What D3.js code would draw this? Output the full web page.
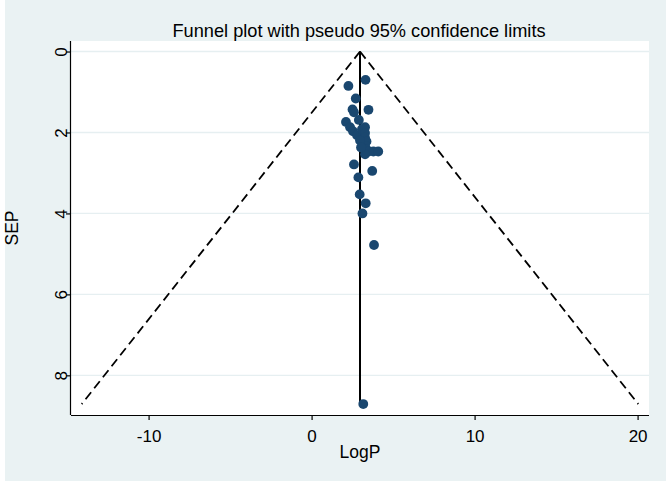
<!DOCTYPE html>
<html><head><meta charset="utf-8">
<script src="https://cdn.jsdelivr.net/npm/d3@7"></script>
<style>body{margin:0;background:#fff}svg{display:block}text{font-family:"Liberation Sans",Arial,sans-serif}</style>
</head><body>
<script>
const logP = [3.31,2.26,2.71,2.51,2.60,3.49,2.90,2.11,2.36,2.54,2.79,3.09,3.28,3.28,3.28,3.37,3.28,3.37,3.49,3.79,4.09,3.28,2.60,3.72,2.87,2.95,3.32,3.12,3.83,3.17,2.97,3.03];
const sep  = [0.70,0.85,1.16,1.43,1.50,1.44,1.69,1.74,1.87,1.97,2.07,1.92,1.87,2.01,2.13,2.22,2.33,2.42,2.47,2.47,2.47,2.54,2.79,2.95,3.11,3.53,3.75,4.00,4.78,8.71,2.20,2.37];
const pooled = 2.97;
const xTicks = [-10,0,10,20];
const yTicks = [0,2,4,6,8];

const W=666,H=481;
const svg=d3.select("body").append("svg").attr("width",W).attr("height",H);
svg.append("rect").attr("x",5).attr("y",0).attr("width",W-5).attr("height",H).attr("fill","#eaf2f3");
const L=71,R=649,T=41,B=415;
svg.append("rect").attr("x",L).attr("y",T).attr("width",R-L).attr("height",B-T).attr("fill","#fff");
const xs=d3.scaleLinear().domain([-14.76,20.7]).range([L,R]);
const ys=d3.scaleLinear().domain([-0.26,8.98]).range([T,B]);

svg.append("g").selectAll("line").data(yTicks).join("line")
  .attr("x1",L).attr("x2",R).attr("y1",d=>ys(d)).attr("y2",d=>ys(d))
  .attr("stroke","#e6eff1").attr("stroke-width",1.3);

const maxSe=d3.max(sep);
const funnel=[[[pooled,0],[pooled-1.96*maxSe,maxSe]],[[pooled,0],[pooled+1.96*maxSe,maxSe]]];
svg.append("g").selectAll("path").data(funnel).join("path")
  .attr("d",d=>d3.line().x(p=>xs(p[0])).y(p=>ys(p[1]))(d))
  .attr("fill","none").attr("stroke","#000").attr("stroke-width",1.8).attr("stroke-dasharray","9,5");
svg.append("line").attr("x1",xs(pooled)).attr("x2",xs(pooled)).attr("y1",ys(0)).attr("y2",ys(maxSe))
  .attr("stroke","#000").attr("stroke-width",2);

svg.append("g").selectAll("circle").data(logP.map((v,i)=>[v,sep[i]])).join("circle")
  .attr("cx",d=>xs(d[0])).attr("cy",d=>ys(d[1])).attr("r",4.9).attr("fill","#1a476f");

const FF="Liberation Sans, Arial, sans-serif";
const xAxis=svg.append("g").attr("transform",`translate(0,${B})`)
  .call(d3.axisBottom(xs).tickValues(xTicks).tickFormat(d=>String(d)).tickSize(5).tickSizeOuter(0));
xAxis.select(".domain").attr("stroke","#000").attr("stroke-width",1.2).attr("d",`M${L},0.5H${R}`);
xAxis.selectAll(".tick line").attr("stroke","#000").attr("stroke-width",1.2);
xAxis.selectAll(".tick text").attr("font-size",17).attr("fill","#000").attr("font-family",FF)
  .attr("y",27).attr("dy",null);

const yAxis=svg.append("g").attr("transform",`translate(${L},0)`)
  .call(d3.axisLeft(ys).tickValues(yTicks).tickFormat(d=>String(d)).tickSize(5).tickSizeOuter(0));
yAxis.select(".domain").attr("stroke","#000").attr("stroke-width",1.2).attr("d",`M-0.5,${T}V${B}`);
yAxis.selectAll(".tick line").attr("stroke","#000").attr("stroke-width",1.2);
yAxis.selectAll(".tick text").attr("font-size",17).attr("fill","#000").attr("font-family",FF)
  .attr("text-anchor","middle").attr("dy",null).attr("x",0).attr("y",-4).attr("transform","rotate(-90)");

svg.append("text").attr("x",359).attr("y",37).attr("text-anchor","middle").attr("font-size",18.2).attr("fill","#000")
  .text("Funnel plot with pseudo 95% confidence limits");
svg.append("text").attr("x",360).attr("y",458).attr("text-anchor","middle").attr("font-size",17.5).attr("fill","#000").text("LogP");
svg.append("text").attr("transform","translate(18,228) rotate(-90)").attr("text-anchor","middle").attr("font-size",17.5).attr("fill","#000").text("SEP");
</script>
</body></html>
